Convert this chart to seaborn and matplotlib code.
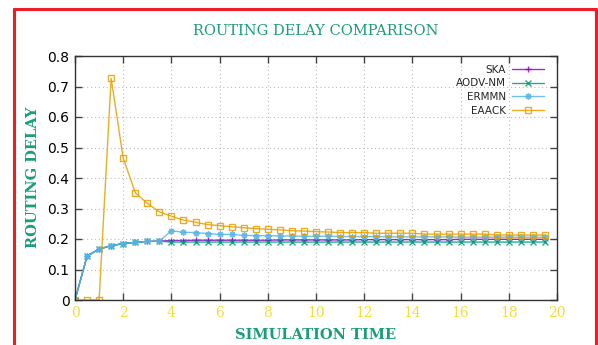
import matplotlib
matplotlib.use("Agg")
import matplotlib.pyplot as plt
from matplotlib.lines import Line2D
import seaborn as sns
import pandas as pd

time = [0, 0.5, 1, 1.5, 2, 2.5, 3, 3.5, 4, 4.5, 5, 5.5, 6, 6.5, 7, 7.5, 8, 8.5, 9, 9.5,
        10, 10.5, 11, 11.5, 12, 12.5, 13, 13.5, 14, 14.5, 15, 15.5, 16, 16.5, 17, 17.5, 18, 18.5, 19, 19.5]

ska = [0, 0.144, 0.167, 0.178, 0.185, 0.189, 0.192, 0.193,
       0.195, 0.195, 0.196, 0.196, 0.196, 0.196, 0.196, 0.196, 0.196, 0.197, 0.197, 0.197,
       0.197, 0.197, 0.197, 0.197, 0.198, 0.198, 0.198, 0.198, 0.198, 0.198, 0.198, 0.198,
       0.199, 0.199, 0.199, 0.199, 0.199, 0.199, 0.199, 0.199]
aodv_nm = [0, 0.144, 0.167, 0.178, 0.185, 0.189, 0.192, 0.193,
           0.190, 0.190, 0.190, 0.190, 0.190, 0.190, 0.190, 0.190, 0.190, 0.190, 0.190, 0.190,
           0.190, 0.190, 0.190, 0.190, 0.190, 0.190, 0.190, 0.190, 0.190, 0.190, 0.190, 0.190,
           0.190, 0.190, 0.190, 0.190, 0.190, 0.190, 0.190, 0.190]
ermmn = [0, 0.144, 0.167, 0.178, 0.185, 0.189, 0.192, 0.193,
         0.227, 0.222, 0.221, 0.218, 0.215, 0.215, 0.212, 0.211, 0.211, 0.210, 0.210, 0.209,
         0.209, 0.209, 0.208, 0.208, 0.208, 0.208, 0.207, 0.207, 0.207, 0.207, 0.207, 0.207,
         0.206, 0.206, 0.206, 0.206, 0.206, 0.206, 0.206, 0.206]
eaack = [0, 0, 0, 0.727, 0.465, 0.352, 0.317, 0.289, 0.275, 0.262, 0.255, 0.247, 0.244, 0.240,
         0.237, 0.234, 0.232, 0.230, 0.227, 0.226, 0.224, 0.223, 0.221, 0.221, 0.221, 0.219,
         0.219, 0.219, 0.219, 0.216, 0.216, 0.216, 0.216, 0.216, 0.216, 0.213, 0.213, 0.213,
         0.213, 0.213]

series_names = ["SKA", "AODV-NM", "ERMMN", "EAACK"]
series_values = [ska, aodv_nm, ermmn, eaack]
colors = ["#9400d3", "#009e73", "#56b4e9", "#e69f00"]
markers = ["+", "x", (8, 2, 0), "s"]

x_ticks = [0, 2, 4, 6, 8, 10, 12, 14, 16, 18, 20]
y_ticks = [0, 0.1, 0.2, 0.3, 0.4, 0.5, 0.6, 0.7, 0.8]
y_tick_labels = ["0", "0.1", "0.2", "0.3", "0.4", "0.5", "0.6", "0.7", "0.8"]

title = "ROUTING DELAY COMPARISON"
x_label = "SIMULATION TIME"
y_label = "ROUTING DELAY"

sns.set_theme(style="white")
plt.rcParams["font.family"] = ["DejaVu Sans"]

W, H = 598, 345
fig = plt.figure(figsize=(W / 100, H / 100), dpi=100)
ax = fig.add_axes([75 / W, 1 - 300 / H, (557 - 75) / W, (300 - 56) / H])

for name, vals, col, mk in zip(series_names, series_values, colors, markers):
    df = pd.DataFrame({"time": time, "delay": vals})
    kw = dict(markersize=4.5, markeredgewidth=1.0, markeredgecolor=col, markerfacecolor=col)
    if mk == "s":
        kw.update(markerfacecolor="none", markersize=5)
    sns.lineplot(data=df, x="time", y="delay", ax=ax, color=col, marker=mk,
                 linewidth=1.0, linestyle="-", label=name, alpha=0.85, **kw)

ax.set_xlim(0, 20)
ax.set_ylim(0, 0.8)
ax.set_xticks(x_ticks)
ax.set_xticklabels([str(t) for t in x_ticks], family="DejaVu Serif", color="#efe03a", fontsize=10)
ax.set_yticks(y_ticks)
ax.set_yticklabels(y_tick_labels, fontsize=10, color="black")
ax.set_xlabel("")
ax.set_ylabel("")
ax.grid(True, linestyle=(0, (1, 2.5)), color="#bbbbbb", linewidth=0.8)
ax.tick_params(direction="in", top=True, right=True, length=5, width=1, color="#444444",
               pad=4, bottom=True, left=True)
for s in ax.spines.values():
    s.set_color("#333333")
    s.set_linewidth(1.0)

leg = ax.legend(loc="upper right", bbox_to_anchor=(0.985, 0.99), frameon=False,
                markerfirst=False, fontsize=7.5, handlelength=3.0, handletextpad=0.6,
                labelspacing=0.35, borderaxespad=0.2)
for t in leg.get_texts():
    t.set_ha("right")

green = "#1a9e78"
fig.text(316 / W, 1 - 31 / H, title, ha="center", va="center", color=green,
         family="DejaVu Serif", fontsize=10.5)
fig.text(316 / W, 1 - 335 / H, x_label, ha="center", va="center", color=green,
         family="DejaVu Serif", fontsize=10.5, fontweight="bold")
fig.text(33 / W, 1 - 177 / H, y_label, ha="center", va="center", color=green,
         family="DejaVu Serif", fontsize=10.5, fontweight="bold", rotation=90)

red = "#ee1c24"
lw = 2.2
fig.add_artist(Line2D([14 / W, 14 / W], [0, 1 - 9 / H], color=red, linewidth=lw, transform=fig.transFigure))
fig.add_artist(Line2D([14 / W, 596 / W], [1 - 9 / H, 1 - 9 / H], color=red, linewidth=lw, transform=fig.transFigure))
fig.add_artist(Line2D([596 / W, 596 / W], [0, 1 - 9 / H], color=red, linewidth=lw, transform=fig.transFigure))

fig.savefig("out.png", dpi=100)
